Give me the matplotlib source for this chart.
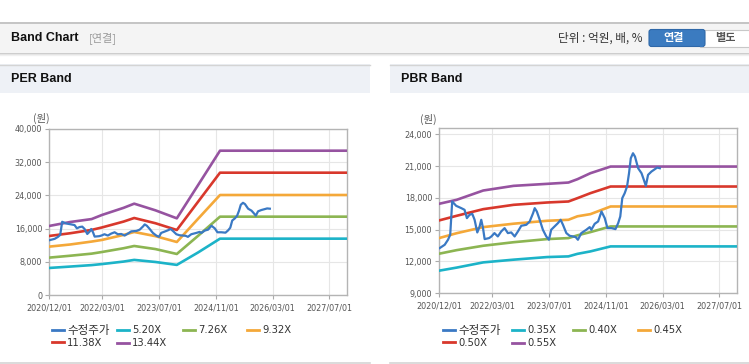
import matplotlib
matplotlib.use('Agg')
import matplotlib.pyplot as plt
import matplotlib.dates as mdates
import matplotlib.ticker as mticker
from matplotlib.patches import Rectangle, FancyBboxPatch
from matplotlib import font_manager
import pandas as pd

plt.rcParams['font.family'] = ['DejaVu Sans', 'Noto Sans CJK KR']

# ---------------- data ----------------
price_dates = ['2020-12-07', '2021-01-19', '2021-02-16', '2021-03-07', '2021-03-24', '2021-04-27',
               '2021-06-10', '2021-07-08', '2021-07-28', '2021-08-20', '2021-09-12', '2021-10-02',
               '2021-10-25', '2021-11-14', '2021-11-28', '2021-12-13', '2021-12-27', '2022-02-03',
               '2022-02-23', '2022-03-21', '2022-04-19', '2022-05-18', '2022-06-16', '2022-07-14',
               '2022-08-12', '2022-09-10', '2022-10-08', '2022-11-06', '2022-12-19', '2023-01-17',
               '2023-02-15', '2023-03-01', '2023-03-19', '2023-04-11', '2023-05-10', '2023-06-08',
               '2023-07-01', '2023-07-20', '2023-08-18', '2023-09-16', '2023-10-09', '2023-10-29',
               '2023-11-27', '2023-12-25', '2024-01-23', '2024-02-15', '2024-03-05', '2024-04-03',
               '2024-05-16', '2024-06-14', '2024-06-28', '2024-07-27', '2024-08-25', '2024-09-23',
               '2024-10-21', '2024-11-13', '2024-12-17', '2025-01-21', '2025-02-13', '2025-03-03',
               '2025-03-20', '2025-04-10', '2025-04-30', '2025-05-17', '2025-06-01', '2025-06-20',
               '2025-07-07', '2025-08-03', '2025-09-01', '2025-09-21', '2025-10-08', '2025-10-27',
               '2025-11-25', '2025-12-24', '2026-01-13', '2026-02-05']
price_values = [13246, 13560, 14032, 14504, 17649, 17240,
                17020, 16862, 16076, 16391, 16485, 15919,
                14724, 15290, 15919, 15133, 14095, 14189,
                14346, 14661, 14346, 14818, 15133, 14661,
                14724, 14346, 14818, 15353, 15447, 15762,
                16548, 17020, 16705, 15982, 14976, 14346,
                14032, 14976, 15290, 15605, 15919, 15447,
                14661, 14409, 14346, 14284, 14032, 14661,
                14976, 15227, 14976, 15542, 15762, 16705,
                16076, 15133, 15133, 15038, 15605, 16234,
                17963, 18435, 19064, 20322, 21737, 22209,
                21894, 20794, 20322, 19693, 19127, 20165,
                20479, 20700, 20857, 20794]

per_dates = ['2020-12-01', '2021-06-01', '2021-12-01', '2022-03-01', '2022-09-01', '2022-12-01',
             '2023-06-01', '2023-12-01', '2024-06-01', '2024-12-05', '2027-12-31']
per_520 = [6560, 6900, 7250, 7500, 8100, 8500, 8000, 7300, 10300, 13600, 13600]
per_726 = [9040, 9500, 10000, 10400, 11300, 11840, 11100, 9920, 14300, 18880, 18880]
per_932 = [11680, 12200, 12900, 13300, 14500, 15200, 14200, 12800, 18400, 24080, 24080]
per_1138 = [14240, 14900, 15700, 16300, 17700, 18560, 17300, 15680, 22500, 29440, 29440]
per_1344 = [16640, 17600, 18300, 19300, 21000, 22000, 20400, 18480, 26500, 34720, 34720]
per_labels = ['5.20X', '7.26X', '9.32X', '11.38X', '13.44X']

pbr_dates = ['2020-12-01', '2021-05-01', '2021-12-15', '2022-09-01', '2023-06-15', '2023-12-15',
             '2024-03-01', '2024-06-20', '2024-12-10', '2027-12-31']
pbr_035 = [11107, 11400, 11893, 12150, 12397, 12460, 12700, 12931, 13403, 13403]
pbr_040 = [12711, 13050, 13466, 13800, 14095, 14189, 14450, 14755, 15290, 15290]
pbr_045 = [14189, 14650, 15227, 15550, 15825, 15919, 16250, 16453, 17177, 17177]
pbr_050 = [15856, 16296, 16925, 17334, 17554, 17649, 17963, 18435, 19064, 19064]
pbr_055 = [17429, 17806, 18687, 19127, 19316, 19441, 19756, 20322, 20951, 20951]
pbr_labels = ['0.35X', '0.40X', '0.45X', '0.50X', '0.55X']

price_label = '수정주가'
tick_dates = ['2020-12-01', '2022-03-01', '2023-07-01', '2024-11-01', '2026-03-01', '2027-07-01']
x_range = ['2020-12-01', '2027-11-28']
per_yticks = [0, 8000, 16000, 24000, 32000, 40000]
pbr_yticks = [9000, 12000, 15000, 18000, 21000, 24000]

band_colors = ['#1cb3c8', '#8cb552', '#f4a839', '#d8382c', '#9653a0']
price_color = '#3a79c4'

# ---------------- fonts ----------------
def has_font(name):
    try:
        font_manager.findfont(name, fallback_to_default=False)
        return True
    except Exception:
        return False

title_font = 'Liberation Sans Narrow' if has_font('Liberation Sans Narrow') else 'Liberation Sans'
title_size = 10.5 if title_font == 'Liberation Sans Narrow' else 9
KR = 'Noto Sans CJK KR'

W, H = 749, 364
fig = plt.figure(figsize=(W / 100, H / 100), dpi=100)
fig.patch.set_facecolor('white')

# overlay in pixel coordinates for page decoration
bg = fig.add_axes([0, 0, 1, 1], zorder=0)
bg.set_xlim(0, W)
bg.set_ylim(H, 0)
bg.axis('off')

# top header
bg.add_patch(Rectangle((0, 22), W, 30, facecolor='#f4f4f4', edgecolor='none'))
bg.plot([0, W], [22.5, 22.5], color='#bcbcbc', lw=1.2)
bg.plot([0, W], [52.5, 52.5], color='#c8c8c8', lw=1.0)
bg.plot([0, W], [53.7, 53.7], color='#e2e2e2', lw=1.0)
bg.plot([0, W], [54.8, 54.8], color='#f0f0f0', lw=1.0)
bg.text(11, 38, 'Band Chart', fontsize=title_size, fontweight='bold', family=title_font,
        color='#111111', va='center', ha='left')
bg.text(89, 38, '[연결]', fontsize=8, family=KR, color='#9a9a9a', va='center', ha='left')
bg.text(642, 38, '단위 : 억원, 배, %', fontsize=8.4, family=KR, color='#333333',
        va='center', ha='right')
bg.add_patch(FancyBboxPatch((649, 29.5), 56, 17, boxstyle='round,pad=0,rounding_size=2.5',
                            facecolor='#3b7bc0', edgecolor='#2f68a8', lw=0.8, zorder=3))
bg.add_patch(Rectangle((700, 29.5), 52, 17, facecolor='#ffffff', edgecolor='#c8c8c8',
                       lw=0.8, zorder=2))
bg.add_patch(Rectangle((700, 29.5), 3, 17, facecolor='#3b7bc0', edgecolor='none', zorder=3))
bg.text(674, 38, '연결', fontsize=8, fontweight='bold', family=KR, color='white',
        va='center', ha='center', zorder=4)
bg.text(725, 38, '별도', fontsize=8, fontweight='bold', family=KR, color='#555555',
        va='center', ha='center', zorder=4)

# panel headers
for x0, x1, name in [(0, 370, 'PER Band'), (390, W, 'PBR Band')]:
    bg.add_patch(Rectangle((x0, 64), x1 - x0, 28.5, facecolor='#eef1f6', edgecolor='none'))
    bg.plot([x0, x1], [64.5, 64.5], color='#d4d4d4', lw=1.0)
    bg.plot([x0, x1], [362.5, 362.5], color='#d4d4d4', lw=1.2)
    bg.text(x0 + 11, 79.5, name, fontsize=title_size, fontweight='bold', family=title_font,
            color='#111111', va='center', ha='left')


def px_axes(left, top, right, bottom):
    return [left / W, (H - bottom) / H, (right - left) / W, (bottom - top) / H]


def draw_panel(rect, band_dates, bands, labels, yticks, ylim, unit_xy, legend_cols, legend_top):
    ax = fig.add_axes(rect, zorder=2)
    ax.set_facecolor('white')
    bd = pd.to_datetime(band_dates)
    pd_dates = pd.to_datetime(price_dates)
    h_price, = ax.plot(pd_dates, price_values, color=price_color, lw=1.6, zorder=4,
                       label=price_label)
    handles = [h_price]
    for vals, col, lab in zip(bands, band_colors, labels):
        h, = ax.plot(bd, vals, color=col, lw=1.9, zorder=3, label=lab,
                     solid_joinstyle='round')
        handles.append(h)
    ax.set_xlim(pd.to_datetime(x_range[0]), pd.to_datetime(x_range[1]))
    ax.set_ylim(*ylim)
    ax.set_yticks(yticks)
    ax.yaxis.set_major_formatter(mticker.FuncFormatter(lambda v, p: f'{v:,.0f}'))
    ax.set_xticks(pd.to_datetime(tick_dates))
    ax.xaxis.set_major_formatter(mdates.DateFormatter('%Y/%m/%d'))
    ax.grid(True, color='#e6e6e6', lw=0.8, zorder=0)
    ax.set_axisbelow(True)
    for s in ax.spines.values():
        s.set_color('#b4b4b4')
        s.set_linewidth(1.0)
    ax.tick_params(axis='both', length=3, width=0.8, color='#aaaaaa',
                   labelcolor='#555555', labelsize=5.8)
    ax.tick_params(axis='x', pad=3)
    ax.tick_params(axis='y', pad=2)
    bg.text(unit_xy[0], unit_xy[1], '(원)', fontsize=7.5, family=KR, color='#555555',
            va='center', ha='left')
    # legend: fixed-width columns, as in the reference
    columns = [[handles[0], handles[4]], [handles[1], handles[5]], [handles[2]], [handles[3]]]
    legs = []
    for i, (xcol, hs) in enumerate(zip(legend_cols, columns)):
        top = legend_top - 1.2 if i == 0 else legend_top
        lsp = 0.1 if i == 0 else 0.3
        leg = ax.legend(handles=hs, labels=[h.get_label() for h in hs], ncol=1,
                        loc='upper left', bbox_to_anchor=(xcol / W, 1 - top / H),
                        bbox_transform=fig.transFigure, frameon=False, fontsize=7.2,
                        handlelength=1.15, handletextpad=0.35,
                        labelspacing=lsp, borderpad=0, borderaxespad=0)
        for t in leg.get_texts():
            t.set_color('#333333')
            if t.get_text() == price_label:
                t.set_fontsize(8.3)
        for lh in leg.get_lines():
            lh.set_linewidth(2.0)
        legs.append(leg)
    for leg in legs[:-1]:
        ax.add_artist(leg)
    return ax


draw_panel(px_axes(49, 128.7, 347, 295.3), per_dates,
           [per_520, per_726, per_932, per_1138, per_1344], per_labels,
           per_yticks, (0, 40000), (33, 118), [52, 117, 183, 247], 325)

draw_panel(px_axes(439, 128, 737, 293), pbr_dates,
           [pbr_035, pbr_040, pbr_045, pbr_050, pbr_055], pbr_labels,
           pbr_yticks, (9000, 24595), (420, 119), [443, 512, 573, 638], 325)

fig.savefig('out.png', dpi=100, facecolor='white')
